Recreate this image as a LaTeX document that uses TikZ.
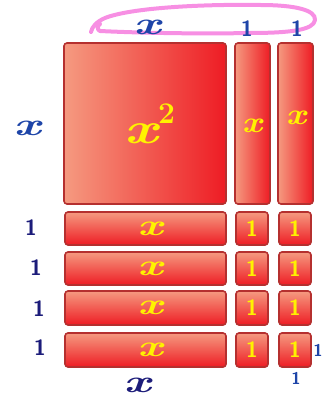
\documentclass[tikz,border=0pt]{standalone}
\usepackage{fontspec}
\usetikzlibrary{calc}
\definecolor{tilelight}{HTML}{F59A80}
\definecolor{tilered}{HTML}{EE1C24}
\definecolor{tileedge}{HTML}{B5302F}
\definecolor{hand}{HTML}{FFF200}
\definecolor{penblue}{HTML}{1E45A8}
\definecolor{pennavy}{HTML}{1C1C7A}
\definecolor{pinkloop}{HTML}{F78FE3}
\newcommand{\hx}{\scalebox{1.5}[1]{\bfseries\itshape x}}
\newcommand{\hone}{\sffamily\bfseries 1}
\begin{document}
\begin{tikzpicture}[x=1pt,y=-1pt,
  vtile/.style={draw=tileedge,line width=1.6pt,rounded corners=3pt,left color=tilelight,right color=tilered,inner sep=0pt},
  htile/.style={draw=tileedge,line width=1.6pt,rounded corners=3pt,top color=tilelight,bottom color=tilered,inner sep=0pt},
  ylab/.style={text=hand,font=\fontsize{30}{32}\selectfont,inner sep=0pt},
  ulab/.style={text=hand,font=\fontsize{22}{24}\selectfont,inner sep=0pt},
  blab/.style={text=penblue,font=\fontsize{32}{34}\selectfont,inner sep=0pt},
  nlab/.style={text=pennavy,font=\fontsize{22}{24}\selectfont,inner sep=0pt}]
\useasboundingbox (0,0) rectangle (324,398);
% pink loop
\draw[pinkloop,line width=4pt,line cap=round,line join=round]
  (91,32) .. controls (92,27) and (96,22) .. (105,18)
  .. controls (130,8) and (200,4) .. (260,5)
  .. controls (295,5) and (316,10) .. (315,20)
  .. controls (314,30) and (290,33) .. (250,33)
  .. controls (200,34) and (140,33) .. (100,31)
  .. controls (97,30) and (97,26) .. (100,24);
% big square and vertical strips
\path[vtile] (64,43) rectangle (226,204);
\node[text=hand,font=\fontsize{44}{46}\selectfont\bfseries,inner sep=0pt] (sq) at (150,124) {\scalebox{1.35}[1]{\itshape x}\raisebox{0.45em}{\fontsize{30}{32}\selectfont 2}};
\path[vtile] (235,43) rectangle (270,204);
\node[ylab] (v1) at (252,126) {\scalebox{1.2}[1]{\bfseries\itshape x}};
\path[vtile] (278,43) rectangle (313,204);
\node[ylab] (v2) at (296,118) {\scalebox{1.2}[1]{\bfseries\itshape x}};
% horizontal bars and unit squares
\foreach \t/\b/\i in {212/245/1,252/285/2,291/325/3,333/367/4}{
  \path[htile] (65,\t) rectangle (226,\b);
  \node[ylab] (h\i) at (150,{(\t+\b)/2}) {\hx};
  \path[htile] (236,\t) rectangle (268,\b);
  \node[ulab] (ua\i) at (252,{(\t+\b)/2}) {\hone};
  \path[htile] (279,\t) rectangle (311,\b);
  \node[ulab] (ub\i) at (295,{(\t+\b)/2}) {\hone};
}
% labels
\node[blab] (tx) at (147,27) {\hx};
\node[nlab,text=penblue] (t1) at (247,29) {\hone};
\node[nlab,text=penblue] (t2) at (297,29) {\hone};
\node[blab] (lx) at (27,128) {\hx};
\node[nlab] (l1) at (31,228) {\hone};
\node[nlab] (l2) at (36,268) {\hone};
\node[nlab] (l3) at (39,309) {\hone};
\node[nlab] (l4) at (40,348) {\hone};
\node[blab,text=pennavy] (bx) at (137,385) {\hx};
\node[nlab,text=penblue,font=\fontsize{17}{19}\selectfont] (r1) at (318,350) {\hone};
\node[nlab,text=penblue,font=\fontsize{17}{19}\selectfont] (r2) at (296,378) {\hone};
\end{tikzpicture}
\end{document}
